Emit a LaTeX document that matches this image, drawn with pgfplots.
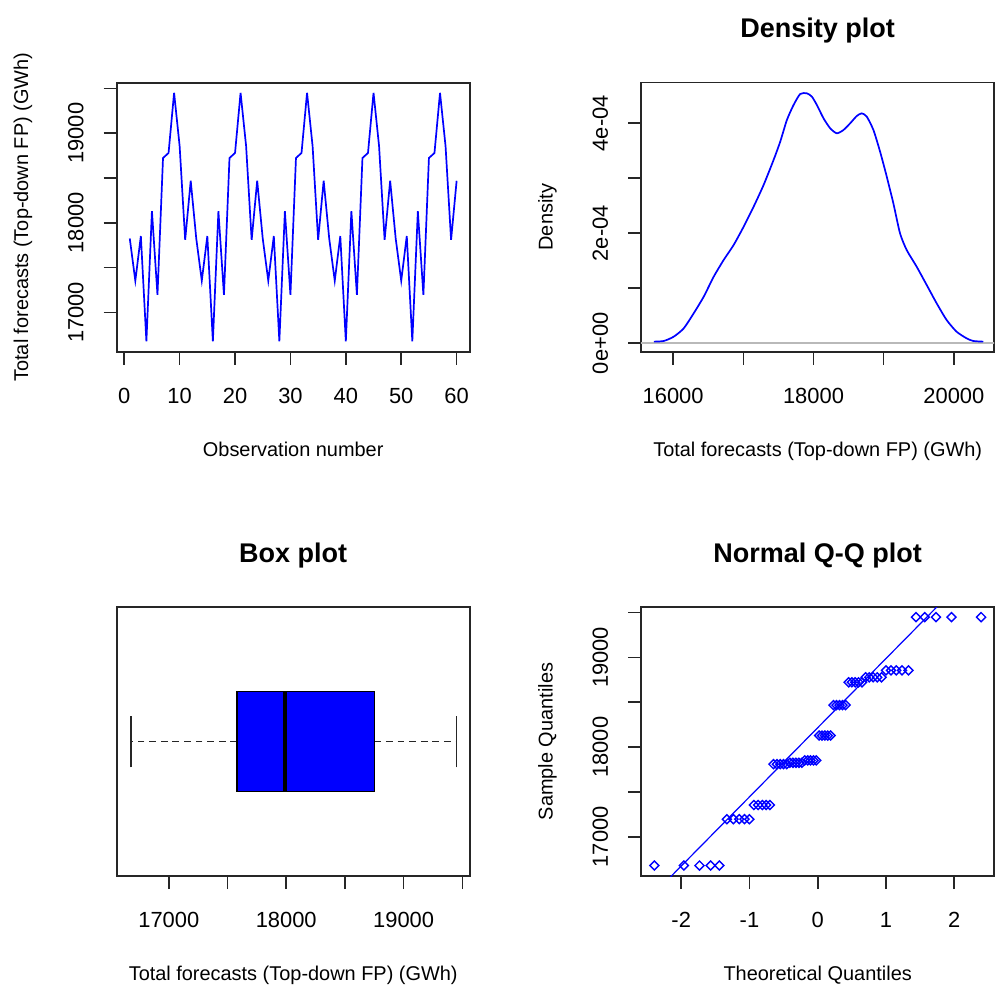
\documentclass[border=0pt]{standalone}
\usepackage{fontspec}
\setmainfont{Liberation Sans}
\usepackage{pgfplots}
\pgfplotsset{compat=1.18}
\usepgfplotslibrary{statistics}

\pgfplotsset{
  rbase/.style={
    scale only axis, width=176.5bp, height=134.5bp,
    scaled ticks=false,
    axis line style={black!85, line width=0.8bp},
    tick align=outside, major tick length=6.6bp,
    every tick/.style={black!85, line width=0.8bp},
    xtick pos=lower, ytick pos=left,
    minor tick num=0,
    every tick label/.append style={font=\fontsize{10.95bp}{13bp}\selectfont, text=black},
    xticklabel style={anchor=base, inner sep=0pt, yshift=-19.2bp},
    yticklabel style={xshift=-10.1bp, rotate=90, anchor=base, inner sep=0pt},
    label style={font=\fontsize{10.95bp}{13bp}\selectfont},
    every axis x label/.style={at={(axis description cs:0.5,0)}, yshift=-52.3bp, anchor=base},
    every axis y label/.style={at={(axis description cs:0,0.5)}, xshift=-44.35bp, rotate=90, anchor=base},
    title style={font=\bfseries\fontsize{13.5bp}{16bp}\selectfont, at={(axis description cs:0.5,1)}, yshift=16.4bp, anchor=base},
    clip=true,
  }
}

\begin{document}
\begin{tikzpicture}
\useasboundingbox (0,0) rectangle (502bp,-493.5bp);

% ---------------- Time series ----------------
\begin{axis}[rbase, at={(58.35bp,-175.85bp)}, anchor=south west,
  xmin=-1.36, xmax=62.36, ymin=16562, ymax=19563,
  xtick={0,10,20,30,40,50,60}, xticklabels={0,10,20,30,40,50,60},
  ytick={17000,17500,18000,18500,19000,19500},
  yticklabels={17000,,18000,,19000,},
  xlabel={Observation number},
  ylabel={Total forecasts (Top-down FP) (GWh)}]
\addplot[blue, line width=0.85bp, mark=none] coordinates {
(1,17825) (2,17354) (3,17852) (4,16679) (5,18129) (6,17196) (7,18723) (8,18779) (9,19450) (10,18856) (11,17810) (12,18469)
(13,17825) (14,17354) (15,17852) (16,16679) (17,18129) (18,17196) (19,18723) (20,18779) (21,19450) (22,18856) (23,17810) (24,18469)
(25,17825) (26,17354) (27,17852) (28,16679) (29,18129) (30,17196) (31,18723) (32,18779) (33,19450) (34,18856) (35,17810) (36,18469)
(37,17825) (38,17354) (39,17852) (40,16679) (41,18129) (42,17196) (43,18723) (44,18779) (45,19450) (46,18856) (47,17810) (48,18469)
(49,17825) (50,17354) (51,17852) (52,16679) (53,18129) (54,17196) (55,18723) (56,18779) (57,19450) (58,18856) (59,17810) (60,18469)
};
\end{axis}

% ---------------- Density ----------------
\begin{axis}[rbase, at={(320.6bp,-175.85bp)}, anchor=south west,
  xmin=15545, xmax=20575, ymin=-0.153, ymax=4.738,
  xtick={16000,17000,18000,19000,20000}, xticklabels={16000,,18000,,20000},
  ytick={0,1,2,3,4}, yticklabels={0e+00,,2e-04,,4e-04},
  title={Density plot},
  xlabel={Total forecasts (Top-down FP) (GWh)},
  ylabel={Density}]
\addplot[gray!55, line width=0.8bp] coordinates {(15400,0) (20700,0)};
\addplot[blue, line width=0.85bp, smooth, tension=0.4, mark=none] coordinates {
(15724,0.030) (15867,0.042) (16009,0.121) (16151,0.272) (16293,0.545) (16436,0.848) (16578,1.211) (16720,1.515) (16862,1.787) (17005,2.121) (17147,2.484) (17289,2.878) (17431,3.333) (17526,3.666) (17621,4.060) (17716,4.333) (17811,4.533) (17906,4.545) (17977,4.484) (18048,4.333) (18143,4.090) (18238,3.909) (18332,3.818) (18427,3.878) (18522,3.999) (18617,4.133) (18688,4.181) (18759,4.121) (18854,3.878) (18949,3.484) (19044,3.030) (19138,2.545) (19233,2.000) (19328,1.696) (19470,1.393) (19613,1.060) (19755,0.727) (19897,0.424) (20039,0.211) (20182,0.090) (20277,0.042) (20419,0.030)
};
\end{axis}

% ---------------- Box plot ----------------
\begin{axis}[rbase, at={(58.35bp,-438bp)}, anchor=south west,
  xmin=16556, xmax=19563, ymin=0.46, ymax=1.54,
  xtick={17000,17500,18000,18500,19000,19500},
  xticklabels={17000,,18000,,19000,},
  ytick=\empty, ytick pos=left,
  boxplot/draw direction=x,
  title={Box plot},
  xlabel={Total forecasts (Top-down FP) (GWh)}]
\addplot[boxplot prepared={lower whisker=16679, lower quartile=17582, median=17990.5, upper quartile=18751, upper whisker=19450, draw position=1, box extend=0.4, whisker extend=0.2,
  every box/.style={draw=black, fill=blue, line width=0.8bp},
  every whisker/.style={draw=black!85, line width=0.9bp, dash pattern=on 3.4bp off 2.4bp},
  every median/.style={draw=black, line width=2bp}}] coordinates {};
\addplot[black!85, line width=0.9bp] coordinates {(16679,0.896) (16679,1.104)};
\addplot[black!85, line width=0.9bp] coordinates {(19450,0.896) (19450,1.104)};
\end{axis}

% ---------------- Normal Q-Q ----------------
\begin{axis}[rbase, at={(320.6bp,-438bp)}, anchor=south west,
  xmin=-2.586, xmax=2.586, ymin=16562, ymax=19563,
  xtick={-2,-1,0,1,2}, xticklabels={-2,-1,0,1,2},
  ytick={17000,17500,18000,18500,19000,19500},
  yticklabels={17000,,18000,,19000,},
  title={Normal Q-Q plot},
  xlabel={Theoretical Quantiles},
  ylabel={Sample Quantiles}]
\addplot[blue, line width=0.6bp] coordinates {(-3,15901.4) (3,20531.6)};
\addplot[only marks, blue, mark=square, mark size=1.6bp, mark options={rotate=45, line width=0.7bp, fill=none}] coordinates {
(-2.394,16679) (-1.960,16679) (-1.732,16679) (-1.569,16679) (-1.440,16679)
(-1.331,17196) (-1.235,17196) (-1.150,17196) (-1.073,17196) (-1.001,17196)
(-0.935,17354) (-0.872,17354) (-0.812,17354) (-0.755,17354) (-0.701,17354)
(-0.649,17810) (-0.598,17810) (-0.549,17810) (-0.501,17810) (-0.454,17810)
(-0.408,17825) (-0.363,17825) (-0.319,17825) (-0.275,17825) (-0.232,17825)
(-0.189,17852) (-0.147,17852) (-0.105,17852) (-0.063,17852) (-0.021,17852)
(0.021,18129) (0.063,18129) (0.105,18129) (0.147,18129) (0.189,18129)
(0.232,18469) (0.275,18469) (0.319,18469) (0.363,18469) (0.408,18469)
(0.454,18723) (0.501,18723) (0.549,18723) (0.598,18723) (0.649,18723)
(0.701,18779) (0.755,18779) (0.812,18779) (0.872,18779) (0.935,18779)
(1.001,18856) (1.073,18856) (1.150,18856) (1.235,18856) (1.331,18856)
(1.440,19450) (1.569,19450) (1.732,19450) (1.960,19450) (2.394,19450)
};
\end{axis}
\end{tikzpicture}
\end{document}
